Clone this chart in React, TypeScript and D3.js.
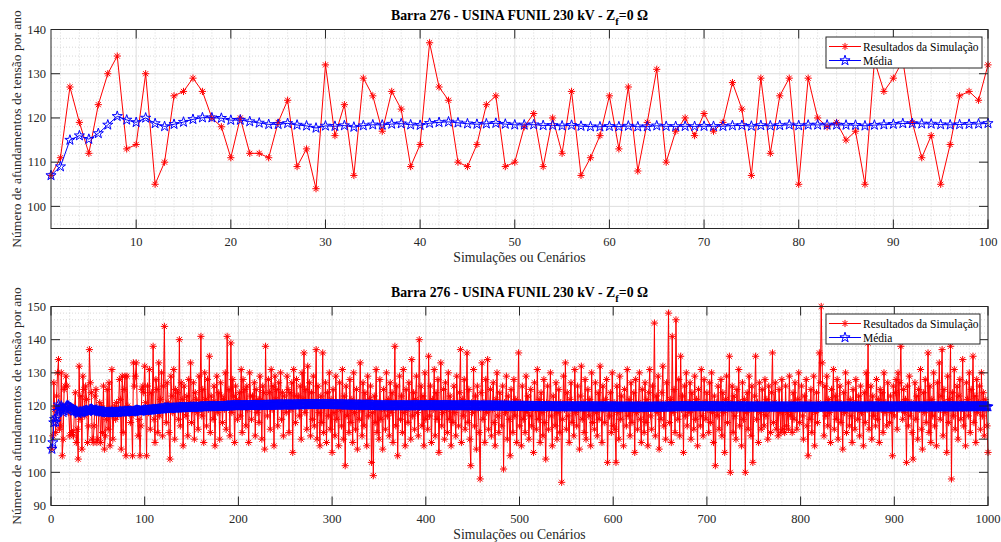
import React from "react";
import * as d3 from "d3";

// ---- DATA ----
const simTop: number[] = [
  107, 111, 127, 119, 112, 123, 130, 134, 113, 114,
  130, 105, 110, 125, 126, 129, 126, 120, 118, 111,
  120, 112, 112, 111, 119, 124, 109, 113, 104, 132,
  116, 123, 107, 129, 125, 117, 126, 122, 109, 114,
  137, 127, 124, 110, 109, 114, 123, 125, 109, 110,
  118, 121, 109, 120, 112, 126, 107, 111, 116, 125,
  113, 127, 108, 119, 131, 110, 117, 120, 116, 121,
  117, 119, 128, 122, 107, 129, 112, 125, 129, 105,
  129, 120, 118, 119, 115, 117, 105, 133, 126, 129,
  133, 119, 111, 116, 105, 114, 125, 126, 124, 132,
];

const simRest: number[] = [
  121, 105, 126, 118, 131, 113, 124, 119, 138, 116,
  109, 128, 125, 112, 133, 117, 122, 130, 111, 126,
  144, 119, 115, 127, 121, 112, 104, 129, 123, 118,
  131, 110, 125, 120, 124, 116, 140, 114, 127, 122,
  108, 126, 120, 117, 123, 111, 128, 121, 133, 115,
  119, 127, 110, 124, 122, 118, 113, 129, 121, 141,
  117, 125, 109, 130, 122, 114, 128, 119, 135, 112,
  123, 121, 116, 126, 108, 121, 129, 118, 124, 110,
  127, 123, 115, 122, 119, 130, 113, 141, 120, 125,
  111, 139, 118, 128, 123, 109, 126, 122, 116, 121,
  124, 117, 131, 112, 128, 120, 125, 114, 126, 119,
  109, 130, 123, 116, 123, 121, 127, 111, 125, 118,
  122, 115, 129, 122, 110, 126, 124, 107, 138, 120,
  117, 128, 124, 113, 131, 119, 126, 108, 129, 122,
  125, 114, 127, 120, 130, 116, 124, 111, 123, 121,
  118, 129, 125, 112, 124, 119, 127, 106, 131, 123,
  115, 128, 121, 123, 117, 126, 110, 130, 122, 136,
  118, 125, 113, 132, 120, 127, 111, 124, 116, 129,
  114, 121, 137, 110, 126, 118, 108, 123, 115, 136,
  112, 120, 127, 109, 124, 117, 130, 113, 122, 106,
  125, 118, 111, 129, 116, 121, 108, 127, 119, 114,
  131, 110, 123, 102, 126, 117, 120, 112, 128, 115,
  122, 109, 130, 118, 113, 125, 107, 121, 116, 133,
  119, 111, 127, 114, 124, 120, 108, 129, 117, 122,
  126, 103, 118, 99, 123, 115, 131, 112, 121, 110,
  128, 116, 120, 107, 125, 119, 113, 130, 117, 122,
  111, 127, 118, 124, 109, 121, 138, 114, 126, 105,
  120, 129, 116, 123, 112, 131, 118, 108, 125, 119,
  115, 127, 121, 110, 134, 117, 124, 113, 122, 129,
  118, 111, 140, 120, 126, 114, 123, 108, 130, 116,
  121, 113, 135, 117, 126, 109, 122, 119, 131, 111,
  124, 116, 128, 106, 120, 133, 114, 118, 125, 110,
  127, 119, 112, 130, 116, 123, 108, 121, 115, 126,
  118, 111, 129, 120, 114, 124, 137, 109, 122, 117,
  128, 113, 119, 136, 115, 125, 110, 102, 121, 118,
  131, 114, 123, 107, 126, 119, 112, 98, 124, 133,
  116, 121, 109, 128, 118, 134, 113, 120, 125, 111,
  119, 127, 115, 108, 122, 130, 117, 112, 124, 120,
  114, 126, 101, 121, 118, 129, 110, 123, 116, 105,
  125, 119, 112, 128, 117, 122, 109, 120, 136, 114,
  121, 108, 126, 116, 119, 112, 129, 118, 123, 110,
  117, 125, 114, 120, 106, 127, 119, 113, 131, 116,
  122, 109, 124, 118, 111, 128, 115, 104, 121, 126,
  113, 119, 130, 117, 108, 123, 120, 114, 127, 110,
  118, 125, 112, 121, 97, 116, 129, 119, 133, 113,
  124, 117, 109, 122, 127, 115, 120, 111, 131, 118,
  114, 126, 119, 107, 123, 132, 116, 121, 112, 128,
  110, 119, 125, 117, 122, 108, 130, 115, 120, 113,
  127, 118, 111, 124, 116, 132, 121, 109, 126, 119,
  115, 122, 128, 103, 120, 117, 124, 112, 130, 114,
  121, 113, 103, 126, 118, 110, 129, 116, 123, 119,
  108, 125, 120, 114, 131, 117, 122, 111, 127, 115,
  119, 124, 106, 128, 118, 113, 121, 130, 116, 109,
  125, 119, 112, 127, 115, 122, 108, 124, 131, 117,
  113, 126, 120, 145, 111, 123, 118, 129, 107, 121,
  116, 124, 132, 114, 119, 110, 127, 121, 148, 115,
  122, 109, 141, 118, 125, 112, 146, 120, 116, 128,
  111, 135, 119, 123, 106, 126, 117, 130, 114, 121,
  118, 127, 110, 124, 119, 113, 129, 116, 122, 108,
  125, 120, 114, 131, 117, 111, 128, 121, 116, 124,
  119, 112, 127, 115, 130, 118, 109, 123, 102, 121,
  117, 126, 113, 120, 128, 111, 124, 118, 106, 122,
  129, 115, 121, 135, 100, 119, 126, 112, 123, 117,
  110, 125, 119, 131, 114, 121, 108, 127, 116, 122,
  100, 118, 124, 113, 129, 120, 111, 126, 103, 119,
  123, 135, 116, 121, 109, 127, 118, 113, 125, 120,
  114, 128, 117, 122, 110, 126, 119, 112, 124, 136,
  115, 121, 127, 113, 119, 111, 125, 118, 112, 128,
  113, 120, 112, 126, 114, 118, 113, 129, 117, 121,
  112, 124, 116, 127, 119, 113, 122, 130, 115, 120,
  126, 117, 110, 123, 119, 128, 114, 105, 121, 116,
  125, 112, 120, 129, 108, 118, 124, 115, 121, 136,
  127, 150, 133, 119, 111, 126, 117, 129, 114, 122,
  118, 109, 125, 120, 131, 113, 123, 116, 128, 110,
  121, 126, 115, 119, 107, 124, 118, 130, 112, 120,
  127, 114, 122, 117, 109, 125, 119, 113, 128, 121,
  116, 123, 111, 126, 118, 120, 108, 124, 115, 130,
  119, 139, 113, 121, 126, 110, 123, 117, 120, 114,
  128, 116, 122, 109, 125, 119, 124, 112, 130, 118,
  121, 114, 127, 120, 115, 123, 118, 105, 126, 117,
  124, 128, 113, 130, 119, 127, 138, 121, 116, 125,
  118, 122, 103, 126, 114, 129, 117, 121, 112, 104,
  120, 127, 116, 123, 110, 125, 119, 131, 113, 107,
  124, 118, 128, 115, 121, 136, 112, 126, 109, 122,
  117, 130, 114, 120, 108, 127, 119, 133, 116, 123,
  137, 111, 125, 118, 121, 106, 129, 115, 122, 138,
  98, 124, 117, 131, 113, 120, 126, 110, 123, 128,
  116, 121, 134, 114, 119, 108, 127, 122, 117, 130,
  112, 125, 120, 135, 115, 123, 109, 128, 118, 121,
  126, 113, 130, 117, 124, 111, 122, 119, 114, 106,
];

const simBottom: number[] = simTop.concat(simRest);

const topXTicks = [10, 20, 30, 40, 50, 60, 70, 80, 90, 100];
const topYTicks = [100, 110, 120, 130, 140];
const bottomXTicks = [0, 100, 200, 300, 400, 500, 600, 700, 800, 900, 1000];
const bottomYTicks = [90, 100, 110, 120, 130, 140, 150];

const legendLabels = ["Resultados da Simulação", "Média"];
const xLabel = "Simulações ou Cenários";
const yLabel = "Número de afundamentos de tensão por ano";

// ---- helpers ----
function runningMean(v: number[]): number[] {
  const c = d3.cumsum(v);
  return Array.from(c, (s, i) => s / (i + 1));
}

const FONT = "'Liberation Serif', 'Times New Roman', serif";
const AX = "#262626";
const RED = "#ff0000";
const BLUE = "#0000ff";

function asteriskPath(x: number, y: number, r: number) {
  const d = r * 0.7071;
  return `M${x - r},${y}H${x + r}M${x},${y - r}V${y + r}M${x - d},${y - d}L${x + d},${y + d}M${x - d},${y + d}L${x + d},${y - d}`;
}

const starPath = d3.symbol(d3.symbolStar, 32)() as string;

type PanelProps = {
  data: number[];
  xDomain: [number, number];
  yDomain: [number, number];
  xTicks: number[];
  yTicks: number[];
  xMinor: number;
  yMinor: number;
  box: { l: number; r: number; t: number; b: number };
  legend: { x: number; y: number; w: number; h: number };
  id: string;
};

function Panel(p: PanelProps) {
  const { box } = p;
  const x = d3.scaleLinear().domain(p.xDomain).range([box.l, box.r]);
  const y = d3.scaleLinear().domain(p.yDomain).range([box.b, box.t]);
  const idx = d3.range(1, p.data.length + 1);
  const mean = runningMean(p.data);

  const line = d3
    .line<number>()
    .x((_, i) => x(idx[i]))
    .y((d) => y(d));

  const xMinorVals = d3
    .range(Math.ceil(p.xDomain[0] / p.xMinor) * p.xMinor, p.xDomain[1] + 1e-9, p.xMinor)
    .filter((v) => v > p.xDomain[0] && v < p.xDomain[1] && !p.xTicks.includes(v));
  const yMinorVals = d3
    .range(Math.ceil(p.yDomain[0] / p.yMinor) * p.yMinor, p.yDomain[1] + 1e-9, p.yMinor)
    .filter((v) => v > p.yDomain[0] && v < p.yDomain[1] && !p.yTicks.includes(v));

  const redMarkers = p.data.map((d, i) => asteriskPath(x(idx[i]), y(d), 3.6)).join("");
  const tk = 9;
  const lg = p.legend;
  const title = "Barra 276 - USINA FUNIL 230 kV - Z";

  return (
    <g>
      <rect x={box.l} y={box.t} width={box.r - box.l} height={box.b - box.t} fill="#fff" />
      {/* minor grid */}
      {xMinorVals.map((v) => (
        <line key={"xm" + v} x1={x(v)} x2={x(v)} y1={box.t} y2={box.b} stroke="#c8c8c8" strokeWidth={0.7} strokeDasharray="1,2" />
      ))}
      {yMinorVals.map((v) => (
        <line key={"ym" + v} x1={box.l} x2={box.r} y1={y(v)} y2={y(v)} stroke="#c8c8c8" strokeWidth={0.7} strokeDasharray="1,2" />
      ))}
      {/* major grid */}
      {p.xTicks.map((v) => (
        <line key={"xg" + v} x1={x(v)} x2={x(v)} y1={box.t} y2={box.b} stroke="#dedede" strokeWidth={1} />
      ))}
      {p.yTicks.map((v) => (
        <line key={"yg" + v} x1={box.l} x2={box.r} y1={y(v)} y2={y(v)} stroke="#dedede" strokeWidth={1} />
      ))}
      {/* data */}
      <path d={line(p.data) || ""} fill="none" stroke={RED} strokeWidth={1} />
      <path d={redMarkers} fill="none" stroke={RED} strokeWidth={1} />
      <path d={line(mean) || ""} fill="none" stroke={BLUE} strokeWidth={1} />
      {mean.map((m, i) => (
        <path key={"s" + i} d={starPath} transform={`translate(${x(idx[i])},${y(m)})`} fill="none" stroke={BLUE} strokeWidth={1} />
      ))}
      {/* box */}
      <rect x={box.l} y={box.t} width={box.r - box.l} height={box.b - box.t} fill="none" stroke={AX} strokeWidth={1} />
      {/* ticks */}
      {p.xTicks.map((v) => (
        <g key={"xt" + v}>
          <line x1={x(v)} x2={x(v)} y1={box.b} y2={box.b - tk} stroke={AX} />
          <line x1={x(v)} x2={x(v)} y1={box.t} y2={box.t + tk} stroke={AX} />
          <text x={x(v)} y={box.b + 17} textAnchor="middle" fontSize={12.5} fill={AX} fontFamily={FONT}>
            {v}
          </text>
        </g>
      ))}
      {p.yTicks.map((v) => (
        <g key={"yt" + v}>
          <line x1={box.l} x2={box.l + tk} y1={y(v)} y2={y(v)} stroke={AX} />
          <line x1={box.r} x2={box.r - tk} y1={y(v)} y2={y(v)} stroke={AX} />
          <text x={box.l - 5} y={y(v) + 4.3} textAnchor="end" fontSize={12.5} fill={AX} fontFamily={FONT}>
            {v}
          </text>
        </g>
      ))}
      {/* labels */}
      <text x={(box.l + box.r) / 2} y={box.b + 33} textAnchor="middle" fontSize={13.7} fill={AX} fontFamily={FONT}>
        {xLabel}
      </text>
      <text
        transform={`translate(${21},${(box.t + box.b) / 2}) rotate(-90)`}
        textAnchor="middle"
        fontSize={13.5}
        fill={AX}
        fontFamily={FONT}
      >
        {yLabel}
      </text>
      <text x={(box.l + box.r) / 2} y={box.t - 10} textAnchor="middle" fontSize={13.8} fontWeight="bold" fill="#000" fontFamily={FONT}>
        {title}
        <tspan dy={5} fontSize={10.5}>f</tspan>
        <tspan dy={-5}>=0 Ω</tspan>
      </text>
      {/* legend */}
      <rect x={lg.x} y={lg.y} width={lg.w} height={lg.h} fill="#fff" stroke={AX} strokeWidth={1} />
      {legendLabels.map((lab, i) => {
        const cy = lg.y + 9.5 + i * 14;
        const x0 = lg.x + 3;
        const x1 = lg.x + 35;
        const cx = (x0 + x1) / 2;
        return (
          <g key={lab}>
            <line x1={x0} x2={x1} y1={cy} y2={cy} stroke={i === 0 ? RED : BLUE} strokeWidth={1} />
            {i === 0 ? (
              <path d={asteriskPath(cx, cy, 3.6)} fill="none" stroke={RED} />
            ) : (
              <path d={starPath} transform={`translate(${cx},${cy})`} fill="none" stroke={BLUE} />
            )}
            <text x={x1 + 2} y={cy + 4.2} fontSize={11.5} fill="#000" fontFamily={FONT}>
              {lab}
            </text>
          </g>
        );
      })}
    </g>
  );
}

export default function App() {
  return (
    <svg
      width={1001}
      height={542}
      viewBox="0 0 1001 542"
      style={{ position: "absolute", left: 0, top: 0, background: "#fff" }}
    >
      <rect x={0} y={0} width={1001} height={542} fill="#fff" />
      <Panel
        id="top"
        data={simTop}
        xDomain={[1, 100]}
        yDomain={[95, 140]}
        xTicks={topXTicks}
        yTicks={topYTicks}
        xMinor={2}
        yMinor={2}
        box={{ l: 51, r: 988, t: 29.5, b: 228.5 }}
        legend={{ x: 826, y: 37, w: 156, h: 31 }}
      />
      <Panel
        id="bottom"
        data={simBottom}
        xDomain={[0, 1000]}
        yDomain={[90, 150]}
        xTicks={bottomXTicks}
        yTicks={bottomYTicks}
        xMinor={20}
        yMinor={2}
        box={{ l: 51, r: 988, t: 306.5, b: 505.5 }}
        legend={{ x: 826, y: 314, w: 154, h: 30 }}
      />
    </svg>
  );
}
